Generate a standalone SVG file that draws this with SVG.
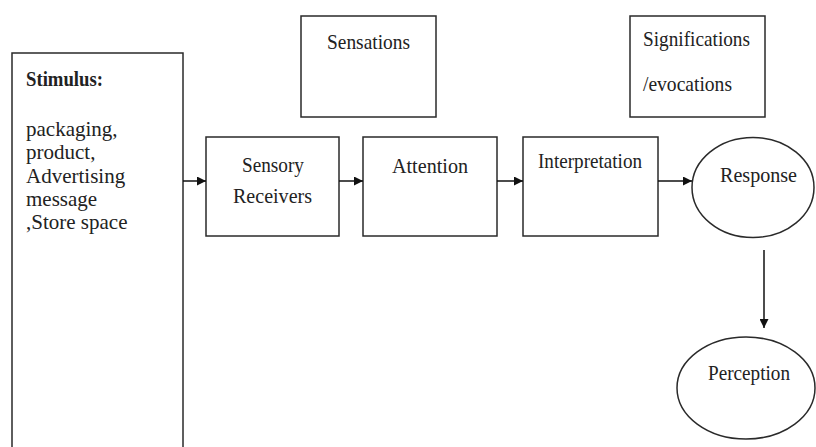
<svg xmlns="http://www.w3.org/2000/svg" width="816" height="447" viewBox="0 0 816 447">
<style>
.box{fill:#fff;stroke:#2a2a2a;stroke-width:1.5}
.t{font-size:21px;fill:#222}
.b{font-weight:bold}
.c{stroke:#111;stroke-width:1.5;fill:none}
</style>
<defs>
<marker id="ah" viewBox="0 0 10 10" refX="10" refY="5" markerWidth="9" markerHeight="9" markerUnits="userSpaceOnUse" orient="auto">
<path d="M0,0 L10,5 L0,10 z" fill="#111"/>
</marker>
</defs>
<rect width="816" height="447" fill="#fff"/>
<g font-family="'Liberation Serif', 'DejaVu Serif', serif">
<g id="stimulus">
<rect class="box" x="12" y="53" width="171" height="410"/>
<text class="t b" x="26" y="86" textLength="77" lengthAdjust="spacingAndGlyphs">Stimulus:</text>
<text class="t" x="26" y="136">packaging,</text>
<text class="t" x="26" y="159">product,</text>
<text class="t" x="26" y="183">Advertising</text>
<text class="t" x="26" y="206">message</text>
<text class="t" x="26" y="229">,Store space</text>
</g>
<g id="sensations">
<rect class="box" x="301" y="16" width="135" height="101"/>
<text class="t" x="327" y="49" textLength="83" lengthAdjust="spacingAndGlyphs">Sensations</text>
</g>
<g id="significations">
<rect class="box" x="630" y="16" width="135" height="101"/>
<text class="t" x="643" y="46" textLength="107" lengthAdjust="spacingAndGlyphs">Significations</text>
<text class="t" x="643" y="91" textLength="89" lengthAdjust="spacingAndGlyphs">/evocations</text>
</g>
<g id="sensory-receivers">
<rect class="box" x="206" y="137" width="133" height="99"/>
<text class="t" x="242" y="172" textLength="62" lengthAdjust="spacingAndGlyphs">Sensory</text>
<text class="t" x="233" y="203" textLength="79" lengthAdjust="spacingAndGlyphs">Receivers</text>
</g>
<g id="attention">
<rect class="box" x="363" y="137" width="134" height="99"/>
<text class="t" x="392" y="173" textLength="76" lengthAdjust="spacingAndGlyphs">Attention</text>
</g>
<g id="interpretation">
<rect class="box" x="523" y="137" width="135" height="99"/>
<text class="t" x="538" y="168" textLength="104" lengthAdjust="spacingAndGlyphs">Interpretation</text>
</g>
<g id="response">
<ellipse class="box" cx="753" cy="187.5" rx="61" ry="50"/>
<text class="t" x="720" y="182" textLength="77" lengthAdjust="spacingAndGlyphs">Response</text>
</g>
<g id="perception">
<ellipse class="box" cx="746" cy="388" rx="69" ry="51"/>
<text class="t" x="708" y="380" textLength="82" lengthAdjust="spacingAndGlyphs">Perception</text>
</g>
</g>
<g id="connectors">
<line class="c" x1="183" y1="181" x2="206" y2="181" marker-end="url(#ah)"/>
<line class="c" x1="339" y1="181" x2="363" y2="181" marker-end="url(#ah)"/>
<line class="c" x1="497" y1="181" x2="523" y2="181" marker-end="url(#ah)"/>
<line class="c" x1="658" y1="181" x2="692" y2="181" marker-end="url(#ah)"/>
<line class="c" x1="764" y1="250" x2="764" y2="328" marker-end="url(#ah)"/>
</g>
</svg>
